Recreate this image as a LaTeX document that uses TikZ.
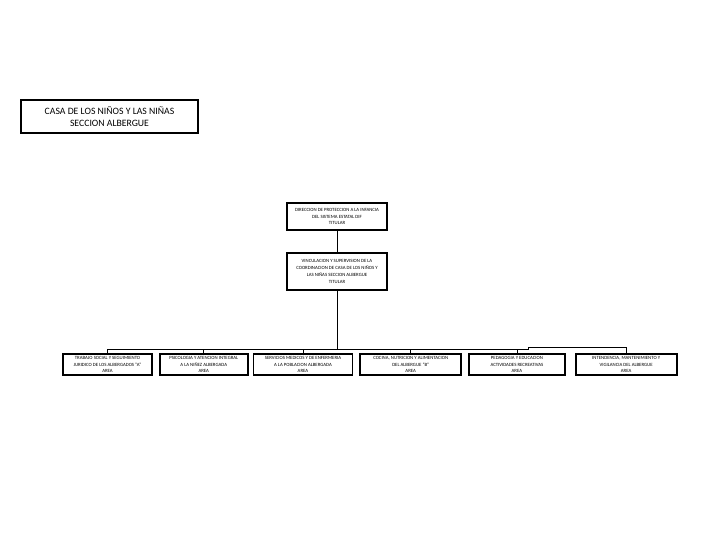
\documentclass[tikz,border=0pt]{standalone}
\usepackage{fontspec}
\setmainfont{Carlito}
\usetikzlibrary{positioning}

\begin{document}
\begin{tikzpicture}[
  x=0.75pt, y=-0.75pt,
  node distance = 15pt and 4.5pt,
  title/.style = {
    draw, line width=0.9pt, minimum width=132.75pt, minimum height=24.75pt,
    align=center, font=\fontsize{7.3}{9}\selectfont
  },
  unit/.style = {
    draw, line width=1.3pt, minimum width=75pt, inner sep=1pt,
    align=center, font=\fontsize{3.6}{5.2}\selectfont
  },
  area/.style = {
    draw, line width=1.3pt, minimum height=15.75pt, inner sep=1pt,
    align=center, font=\fontsize{3.6}{4.9}\selectfont
  },
  link/.style = { line width=0.6pt }
]
\useasboundingbox (0,0) rectangle (720,540);

\node[title] (T) at (109.5,116.5) {CASA DE LOS NIÑOS Y LAS NIÑAS\\SECCION ALBERGUE};

\node[unit, minimum height=20.25pt] (A) at (337,216.5)
  {DIRECCION DE PROTECCION A LA INFANCIA\\DEL SISTEMA ESTATAL DIF\\TITULAR};
\node[unit, minimum height=27.75pt, below=15.75pt of A] (B)
  {VINCULACION Y SUPERVISION DE LA\\COORDINACION DE CASA DE LOS NIÑOS Y\\LAS NIÑAS SECCION ALBERGUE\\TITULAR};

\node[area, minimum width=66.75pt] (b1) at (107.5,364.5)
  {TRABAJO SOCIAL Y SEGUIMIENTO\\JURIDICO DE LOS ALBERGADOS ``A''\\AREA};
\node[area, minimum width=66pt, right=4.5pt of b1] (b2)
  {PSICOLOGIA Y ATENCION INTEGRAL\\A LA NIÑEZ ALBERGADA\\AREA};
\node[area, minimum width=74.25pt, right=3pt of b2] (b3)
  {SERVICIOS MEDICOS Y DE ENFERMERIA\\A LA POBLACION ALBERGADA\\AREA};
\node[area, minimum width=75.75pt, right=4.5pt of b3] (b4)
  {COCINA, NUTRICION Y ALIMENTACION\\DEL ALBERGUE ``B''\\AREA};
\node[area, minimum width=72pt, right=4.5pt of b4] (b5)
  {PEDAGOGIA Y EDUCACION\\ACTIVIDADES RECREATIVAS\\AREA};
\node[area, minimum width=75.75pt, right=6.75pt of b5] (b6)
  {INTENDENCIA, MANTENIMIENTO Y\\VIGILANCIA DEL ALBERGUE\\AREA};

\coordinate (bus) at (337,349);
\coordinate (step) at (528,347.5);

\draw[link] (A) -- (B);
\draw[link] (B) -- (bus);
\draw[link] (b1.north) |- (bus);
\draw[link] (b2.north) |- (bus);
\draw[link] (b3.north) |- (bus);
\draw[link] (b4.north) |- (bus);
\draw[link] (b5.north) |- (bus);
\draw[link] (b6.north) |- (step) |- (bus);

\end{tikzpicture}
\end{document}
